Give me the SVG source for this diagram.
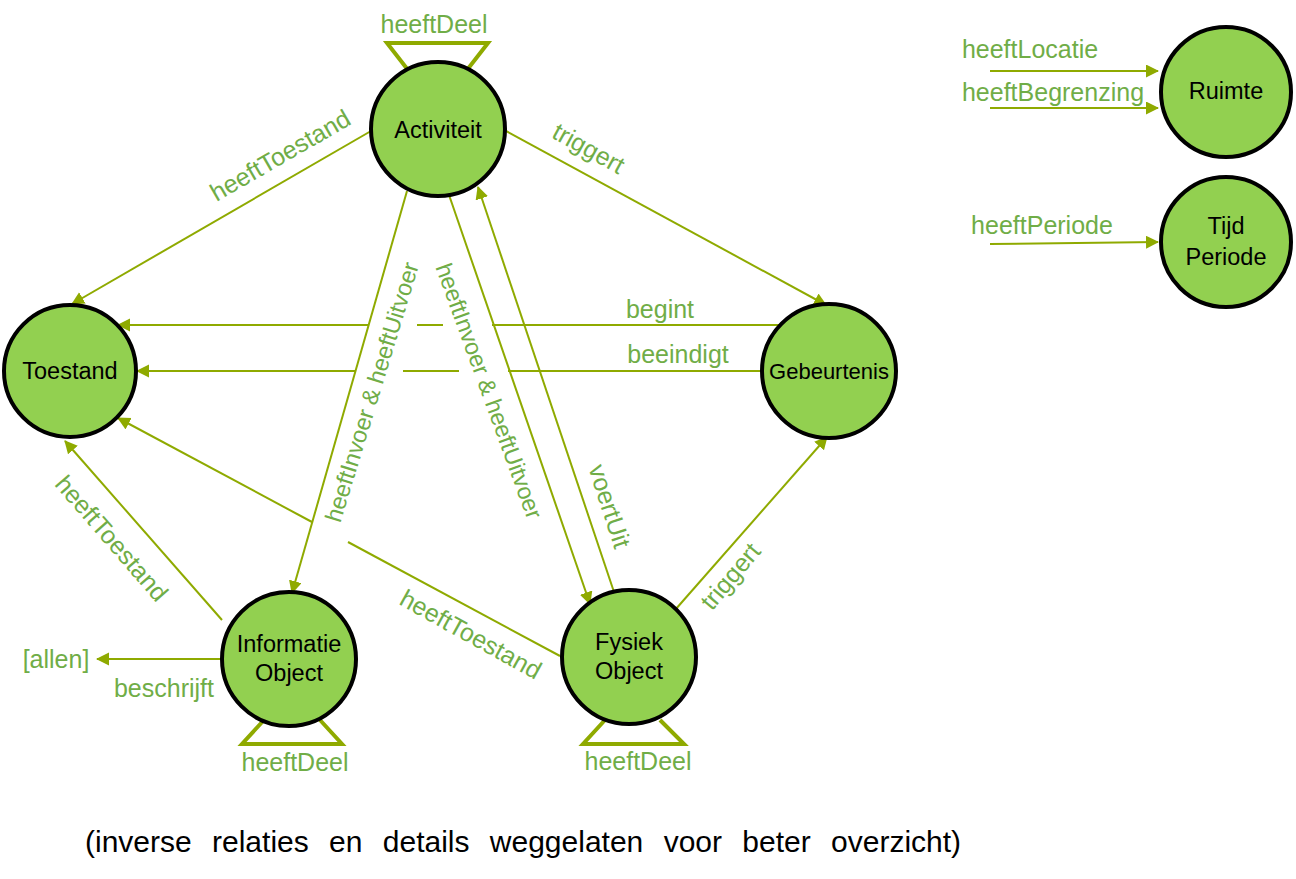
<svg xmlns="http://www.w3.org/2000/svg" width="1296" height="879" viewBox="0 0 1296 879">
<style>
.edge{stroke:#8FAA00;stroke-width:2;fill:none}
.loop{stroke:#8FAA00;stroke-width:4;fill:none;stroke-linejoin:miter}
.node{fill:#92D050;stroke:#000;stroke-width:4}
.nl{font-family:"Liberation Sans",Arial,sans-serif;font-size:23.5px;fill:#000;text-anchor:middle}
.el{font-family:"Liberation Sans",Arial,sans-serif;font-size:25px;fill:#70AD47;text-anchor:middle}
.em{font-family:"Liberation Sans",Arial,sans-serif;font-size:23.5px;fill:#70AD47;text-anchor:middle}
.note{font-family:"Liberation Sans",Arial,sans-serif;font-size:30px;fill:#000}
</style>
<defs>
<marker id="arr" markerUnits="userSpaceOnUse" markerWidth="14" markerHeight="14" refX="12" refY="6.5" orient="auto">
<path d="M0,0 L13,6.5 L0,13 z" fill="#8FAA00"/>
</marker>
</defs>
<rect width="1296" height="879" fill="#fff"/>
<g id="connectors">
<line class="edge" x1="371" y1="131" x2="72" y2="304" marker-end="url(#arr)"/>
<line class="edge" x1="506" y1="131" x2="826" y2="305" marker-end="url(#arr)"/>
<line class="edge" x1="780" y1="325" x2="492" y2="325"/>
<line class="edge" x1="443" y1="325" x2="417" y2="325"/>
<line class="edge" x1="368" y1="325" x2="118" y2="325" marker-end="url(#arr)"/>
<line class="edge" x1="762" y1="371" x2="508" y2="371"/>
<line class="edge" x1="459" y1="371" x2="403" y2="371"/>
<line class="edge" x1="355" y1="371" x2="137" y2="371" marker-end="url(#arr)"/>
<line class="edge" x1="407" y1="191" x2="292" y2="593" marker-end="url(#arr)"/>
<line class="edge" x1="448" y1="192" x2="590" y2="604" marker-end="url(#arr)"/>
<line class="edge" x1="614" y1="592" x2="478" y2="187" marker-end="url(#arr)"/>
<line class="edge" x1="222" y1="620" x2="65" y2="441" marker-end="url(#arr)"/>
<line class="edge" x1="560" y1="656" x2="348" y2="542"/>
<line class="edge" x1="312" y1="522" x2="118" y2="418" marker-end="url(#arr)"/>
<line class="edge" x1="675" y1="610" x2="827" y2="437" marker-end="url(#arr)"/>
<line class="edge" x1="221" y1="659" x2="97" y2="659" marker-end="url(#arr)"/>
<line class="edge" x1="990" y1="71" x2="1158" y2="71" marker-end="url(#arr)"/>
<line class="edge" x1="990" y1="108" x2="1158" y2="108" marker-end="url(#arr)"/>
<line class="edge" x1="990" y1="244" x2="1158" y2="242" marker-end="url(#arr)"/>
<polyline class="loop" points="408,70 387,43 488,43 467,70"/>
<polyline class="loop" points="264,720 242,744 342,744 320,720"/>
<polyline class="loop" points="605,720 583,744 684,744 660,720"/>
</g>
<g id="edge-labels">
<text class="el" transform="translate(280,155) rotate(-30)" y="9">heeftToestand</text>
<text class="el" transform="translate(589,148) rotate(29)" y="9">triggert</text>
<text class="el" x="660" y="318">begint</text>
<text class="el" x="678" y="363">beeindigt</text>
<text class="em" transform="translate(372,392) rotate(-73)" y="8" textLength="270">heeftInvoer &amp; heeftUitvoer</text>
<text class="em" transform="translate(489,391) rotate(70)" y="8" textLength="270">heeftInvoer &amp; heeftUitvoer</text>
<text class="el" transform="translate(610,506) rotate(72)" y="9">voertUit</text>
<text class="el" transform="translate(112,538) rotate(49)" y="9">heeftToestand</text>
<text class="el" transform="translate(471,634) rotate(29)" y="9">heeftToestand</text>
<text class="el" transform="translate(730,576) rotate(-50)" y="9">triggert</text>
<text class="el" x="434" y="33">heeftDeel</text>
<text class="el" x="295" y="771">heeftDeel</text>
<text class="el" x="638" y="770">heeftDeel</text>
<text class="el" x="56" y="668">[allen]</text>
<text class="el" x="164" y="697">beschrijft</text>
<text class="el" x="1030" y="58">heeftLocatie</text>
<text class="el" x="1053" y="101">heeftBegrenzing</text>
<text class="el" x="1042" y="234">heeftPeriode</text>
</g>
<g id="node-activiteit"><circle class="node" cx="438" cy="129" r="67"/><text class="nl" x="438" y="138">Activiteit</text></g>
<g id="node-toestand"><circle class="node" cx="70" cy="371" r="66"/><text class="nl" x="70" y="379">Toestand</text></g>
<g id="node-gebeurtenis"><circle class="node" cx="829" cy="371" r="67"/><text class="nl" x="829" y="379" style="font-size:22px">Gebeurtenis</text></g>
<g id="node-informatie"><circle class="node" cx="289" cy="659" r="67"/><text class="nl" x="289" y="652">Informatie</text><text class="nl" x="289" y="681">Object</text></g>
<g id="node-fysiek"><circle class="node" cx="629" cy="657" r="67"/><text class="nl" x="629" y="650">Fysiek</text><text class="nl" x="629" y="679">Object</text></g>
<g id="node-ruimte"><circle class="node" cx="1226" cy="92" r="65"/><text class="nl" x="1226" y="99">Ruimte</text></g>
<g id="node-tijd"><circle class="node" cx="1226" cy="242" r="65"/><text class="nl" x="1226" y="234">Tijd</text><text class="nl" x="1226" y="265">Periode</text></g>
<text class="note" x="85" y="852" word-spacing="12">(inverse relaties en details weggelaten voor beter overzicht)</text>
</svg>
